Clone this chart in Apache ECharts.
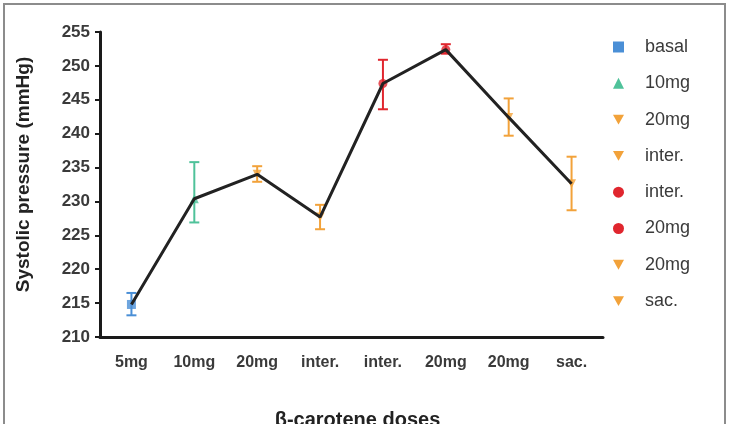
<!DOCTYPE html>
<html>
<head>
    <meta charset="UTF-8">
    <script src="https://cdn.jsdelivr.net/npm/echarts@6/dist/echarts.min.js"></script>
    <style>
        html, body { margin: 0; padding: 0; background: #ffffff; }
        #main { width: 732px; height: 424px; }
    </style>
</head>
<body>
<div id="main"></div>
<script type="text/javascript">
    // categories along the x axis
    var doses = ['5mg', '10mg', '20mg', 'inter.', 'inter.', '20mg', '20mg', 'sac.'];
    // legend labels (one per group, same order as points)
    var groups = ['basal', '10mg', '20mg', 'inter.', 'inter.', '20mg', '20mg', 'sac.'];
    // mean systolic pressure
    var means = [214.8, 230.4, 234.0, 227.7, 247.4, 252.4, 242.4, 232.6];
    // error bar low / high
    var lows = [213.2, 226.9, 232.9, 225.9, 243.6, 251.8, 239.7, 228.7];
    var highs = [216.5, 235.8, 235.2, 229.5, 250.9, 253.2, 245.2, 236.6];
    var yTicks = [210, 215, 220, 225, 230, 235, 240, 245, 250, 255];

    var down = 'path://M0,0 L10,0 L5,9 Z';
    var colors = ['#4a8fd6', '#4fc29a', '#f2a23a', '#f2a23a', '#e0262e', '#e0262e', '#f2a23a', '#f2a23a'];
    var symbols = ['rect', 'triangle', down, down, 'circle', 'circle', down, down];

    var font = 'Liberation Sans Narrow, Arial Narrow, Liberation Sans, Arial';

    var myChart = echarts.init(document.getElementById('main'));

    var series = [];
    var legendData = [];
    for (var i = 0; i < doses.length; i++) {
        // zero-width spaces keep duplicate labels as separate legend entries
        var nm = groups[i] + new Array(i + 1).join('\u200b');
        legendData.push({name: nm, icon: symbols[i]});
        series.push({
            name: nm,
            type: 'custom',
            z: 2,
            itemStyle: {color: colors[i]},
            data: [[i, lows[i], highs[i], means[i]]],
            renderItem: (function (col) {
                return function (params, api) {
                    var x = api.value(0);
                    var lo = api.coord([x, api.value(1)]);
                    var hi = api.coord([x, api.value(2)]);
                    var cap = 5;
                    var st = {stroke: col, lineWidth: 2};
                    return {
                        type: 'group',
                        children: [
                            {type: 'line', shape: {x1: lo[0], y1: lo[1], x2: hi[0], y2: hi[1]}, style: st},
                            {type: 'line', shape: {x1: lo[0] - cap, y1: lo[1], x2: lo[0] + cap, y2: lo[1]}, style: st},
                            {type: 'line', shape: {x1: hi[0] - cap, y1: hi[1], x2: hi[0] + cap, y2: hi[1]}, style: st}
                        ]
                    };
                };
            })(colors[i])
        });
        series.push({
            name: nm,
            type: 'scatter',
            z: 2,
            symbol: symbols[i],
            symbolSize: 9,
            itemStyle: {color: colors[i]},
            data: [[i, means[i]]]
        });
    }
    series.push({
        name: 'mean',
        type: 'line',
        z: 3,
        symbol: 'none',
        lineStyle: {color: '#222222', width: 3},
        data: means
    });

    var option = {
        animation: false,
        backgroundColor: '#ffffff',
        grid: {left: 100, right: 129, top: 32, bottom: 87, outerBoundsMode: 'none'},
        legend: {
            orient: 'vertical',
            left: 608,
            top: 33,
            itemWidth: 11,
            itemHeight: 11,
            itemGap: 18.3,
            data: legendData,
            textStyle: {fontSize: 18, color: '#3a3a3a', fontFamily: font, padding: [0, 0, 0, 16]}
        },
        xAxis: {
            type: 'category',
            data: doses,
            name: 'β-carotene doses',
            nameLocation: 'middle',
            nameGap: 73,
            nameTextStyle: {fontSize: 20, fontWeight: 'bold', color: '#222222', fontFamily: 'Liberation Sans, Arial', padding: [0, 0, 0, 12]},
            axisLine: {lineStyle: {color: '#1a1a1a', width: 3}},
            axisTick: {alignWithLabel: true, length: 6, lineStyle: {color: '#1a1a1a', width: 2}},
            axisLabel: {fontSize: 16, fontWeight: 'bold', color: '#3a3a3a', margin: 18, fontFamily: font}
        },
        yAxis: {
            type: 'value',
            min: yTicks[0],
            max: yTicks[yTicks.length - 1],
            interval: 5,
            name: 'Systolic pressure (mmHg)',
            nameLocation: 'middle',
            nameGap: 67,
            nameTextStyle: {fontSize: 19, fontWeight: 'bold', color: '#222222', fontFamily: 'Liberation Sans, Arial', padding: [0, 0, 0, 20]},
            splitLine: {show: false},
            axisLine: {show: true, lineStyle: {color: '#1a1a1a', width: 3}},
            axisTick: {show: true, length: 5, lineStyle: {color: '#1a1a1a', width: 2}},
            axisLabel: {fontSize: 17, fontWeight: 'bold', color: '#3a3a3a', margin: 10, fontFamily: font}
        },
        graphic: [{
            type: 'rect',
            shape: {x: 4, y: 4, width: 721, height: 430},
            style: {fill: null, stroke: '#8c8c8c', lineWidth: 2},
            silent: true
        }],
        series: series
    };

    myChart.setOption(option);
</script>
</body>
</html>
